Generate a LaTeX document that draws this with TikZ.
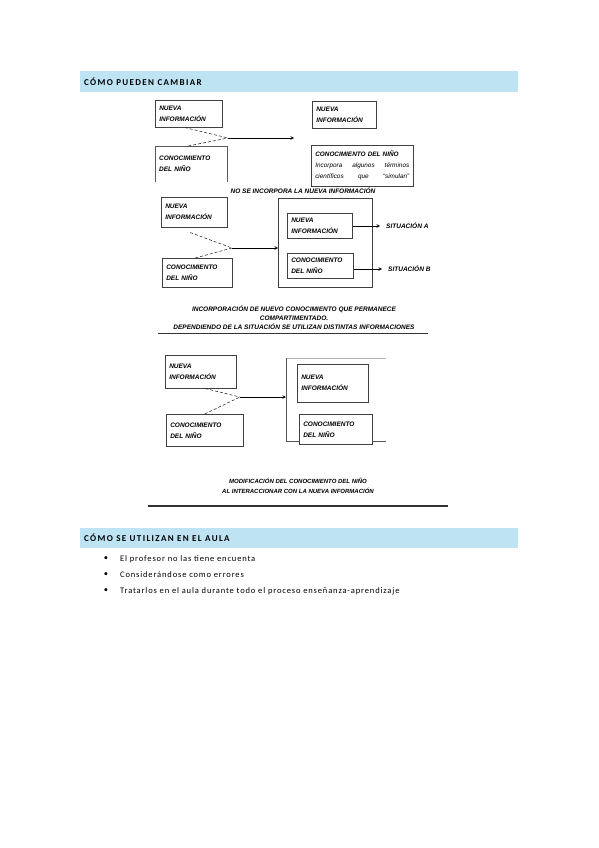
\documentclass[tikz,border=0pt]{standalone}
\usepackage{fontspec}
\setmainfont{Liberation Sans}
\newfontfamily\headfont[LetterSpace=15]{Carlito}
\newfontfamily\listfont[LetterSpace=10]{Carlito}
\usetikzlibrary{positioning,shadows,calc}
\definecolor{headblue}{HTML}{BEE3F3}

\begin{document}
\begin{tikzpicture}[
    x=1pt, y=-1pt,
    box/.style={draw=black!75, line width=0.55pt, fill=white, anchor=north west, align=left,
        inner xsep=4pt, inner ysep=2pt, font=\fontsize{6.5}{11}\selectfont\bfseries\itshape,
        drop shadow={shadow xshift=0.8pt, shadow yshift=-0.8pt, fill=black!45, opacity=1}},
    openbox/.style={anchor=north west, align=left, inner xsep=4pt, inner ysep=2pt,
        font=\fontsize{6.5}{11}\selectfont\bfseries\itshape},
    frame/.style={draw=black!65, line width=0.55pt},
    dashlink/.style={draw=black!85, line width=0.55pt, dash pattern=on 3pt off 2pt},
    link/.style={->, >=stealth, line width=0.6pt},
    caption/.style={font=\fontsize{6.5}{9}\selectfont\bfseries\itshape, align=center, inner sep=1pt, fill=white},
    rule/.style={draw=black!80, line width=0.7pt},
    bar/.style={fill=headblue, anchor=north west, minimum width=438pt, inner sep=0pt},
    head/.style={font=\headfont\bfseries\fontsize{9}{11}\selectfont, inner sep=0pt},
    dot/.style={font=\listfont\fontsize{8.5}{10}\selectfont, inner sep=0pt},
    item/.style={font=\listfont\fontsize{8.5}{10}\selectfont, anchor=west, inner sep=0pt}
]
\useasboundingbox (0,0) rectangle (599,848);

% Section header
\node[bar, minimum height=21pt] (bar1) at (80,71) {};
\node[head, right=4pt of bar1.west, anchor=west] (head1) {CÓMO PUEDEN CAMBIAR};

% Panel 1: the new information is not taken in
\node[box, text width=59pt, minimum height=27pt] (ni1) at (155,100) {NUEVA\\INFORMACIÓN};
\node[openbox, text width=64pt, minimum height=36pt] (cn1) at (155,146) {CONOCIMIENTO\\DEL NIÑO};
\draw[frame] (cn1.south west) -- (cn1.north west) -- (cn1.north east) -- (cn1.south east);
\coordinate (j1) at (228,138);
\coordinate (a1) at (294,138);
\draw[dashlink] ([xshift=-4pt]ni1.south) -- (j1);
\draw[dashlink] ([xshift=-3pt]cn1.north) -- (j1);
\draw[link] (j1) -- (a1);

\node[box, text width=56pt, minimum height=27pt] (ni1r) at (312,101) {NUEVA\\INFORMACIÓN};
\node[box, text width=94pt, minimum height=41pt, font=\fontsize{6.4}{11}\selectfont\bfseries\itshape] (cn1r) at (311,145)
    {CONOCIMIENTO DEL NIÑO\\\mdseries Incorpora\hfill algunos\hfill términos\\científicos\hfill que\hfill “simulan”};
\node[caption] (cap1) at (303,191) {NO SE INCORPORA LA NUEVA INFORMACIÓN};

% Panel 2: knowledge kept in compartments
\node[box, text width=58pt, minimum height=30pt] (ni2) at (161,197) {NUEVA\\INFORMACIÓN};
\node[box, text width=62pt, minimum height=29pt] (cn2) at (162,258) {CONOCIMIENTO\\DEL NIÑO};
\coordinate (j2) at (232,248);
\draw[dashlink] ([xshift=-4pt, yshift=-5pt]ni2.south) -- (j2);
\draw[dashlink] ([xshift=-2pt]cn2.north) -- (j2);

\node[box, minimum width=94pt, minimum height=89pt] (big2) at (278,198) {};
\draw[link] (j2) -- (j2 -| big2.west);
\node[box, text width=57pt, minimum height=25pt] (ni2i) at (287,213) {NUEVA\\INFORMACIÓN};
\node[box, text width=58pt, minimum height=25pt] (cn2i) at (287,253) {CONOCIMIENTO\\DEL NIÑO};
\node[openbox, anchor=west, inner xsep=2pt] (sitA) at (384,226) {SITUACIÓN A};
\node[openbox, anchor=west, inner xsep=2pt] (sitB) at (386,269) {SITUACIÓN B};
\draw[link, shorten >=4pt] (ni2i.east |- sitA.west) -- (sitA.west);
\draw[link, shorten >=4pt] (cn2i.east |- sitB.west) -- (sitB.west);

\node[caption] (cap2) at (294,318) {INCORPORACIÓN DE NUEVO CONOCIMIENTO QUE PERMANECE\\COMPARTIMENTADO.\\DEPENDIENDO DE LA SITUACIÓN SE UTILIZAN DISTINTAS INFORMACIONES};
\coordinate (r2a) at (158,333);
\coordinate (r2b) at (428,333);
\draw[rule] (r2a) -- (r2b);

% Panel 3: knowledge is changed by the new information
\node[box, text width=63pt, minimum height=33pt] (ni3) at (165,355) {NUEVA\\INFORMACIÓN};
\node[box, text width=69pt, minimum height=32pt] (cn3) at (166,414) {CONOCIMIENTO\\DEL NIÑO};
\coordinate (j3) at (240,397);
\draw[dashlink] ([xshift=4.5pt]ni3.south) -- (j3);
\draw[dashlink] (cn3.north) -- (j3);

\coordinate (b3top) at (286,358);
\coordinate (b3bot) at (286,441);
\draw[draw=black!30, line width=0.5pt] (b3top) -- ++(100,0);
\draw[frame] (b3top) -- (b3bot) -- ++(100,0);
\draw[link] (j3) -- (j3 -| b3top);
\node[box, text width=63pt, minimum height=38pt] (ni3i) at (297,364) {NUEVA\\INFORMACIÓN};
\node[box, text width=65pt, minimum height=30pt] (cn3i) at (299,414) {CONOCIMIENTO\\DEL NIÑO};

\node[caption, font=\fontsize{6}{10}\selectfont\bfseries\itshape] (cap3) at (298,486) {MODIFICACIÓN DEL CONOCIMIENTO DEL NIÑO\\AL INTERACCIONAR CON LA NUEVA INFORMACIÓN};
\coordinate (r3a) at (148,506);
\coordinate (r3b) at (448,506);
\draw[rule, line width=1.5pt] (r3a) -- (r3b);

% Section header
\node[bar, minimum height=20pt] (bar2) at (80,528) {};
\node[head, right=4pt of bar2.west, anchor=west] (head2) {CÓMO SE UTILIZAN EN EL AULA};

% List
\node[dot] (d1) at (106,559) {•};
\node[item] (i1) at (120,559) {El profesor no las tiene encuenta};
\node[dot] (d2) at (106,575) {•};
\node[item] (i2) at (120,575) {Considerándose como errores};
\node[dot] (d3) at (106,591) {•};
\node[item] (i3) at (120,591) {Tratarlos en el aula durante todo el proceso enseñanza-aprendizaje};
\end{tikzpicture}
\end{document}
